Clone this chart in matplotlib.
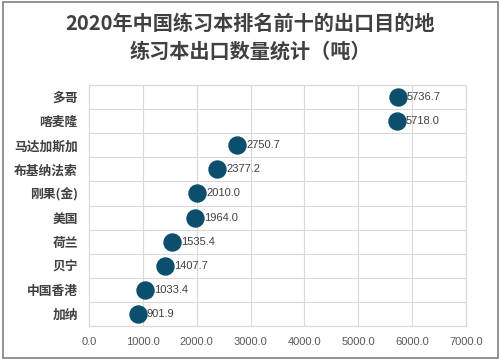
import matplotlib
matplotlib.use("Agg")
import matplotlib.pyplot as plt
from matplotlib.patches import Rectangle

plt.rcParams['font.family'] = ['Noto Sans CJK SC', 'DejaVu Sans']

categories = ["多哥", "喀麦隆", "马达加斯加", "布基纳法索", "刚果(金)", "美国", "荷兰", "贝宁", "中国香港", "加纳"]
values = [5736.7, 5718.0, 2750.7, 2377.2, 2010.0, 1964.0, 1535.4, 1407.7, 1033.4, 901.9]
xticks = [0, 1000, 2000, 3000, 4000, 5000, 6000, 7000]
title = "2020年中国练习本排名前十的出口目的地\n练习本出口数量统计（吨）"

fig = plt.figure(figsize=(5.01, 3.6), dpi=100)
fig.patches.append(Rectangle((0.006, 0.006), 0.988, 0.988, transform=fig.transFigure,
                             fill=False, edgecolor="#7f7f7f", linewidth=1.2))
ax = fig.add_axes([89/501, 1-326/360, (466-89)/501, (326-85)/360])

n = len(categories)
ypos = list(range(n))[::-1]
ax.scatter(values, ypos, s=150, color="#0b4f6c", zorder=3)
for v, y in zip(values, ypos):
    ax.annotate(f"{v:.1f}", (v, y), xytext=(6.5, 0), textcoords="offset points",
                va="center", ha="left", fontsize=8, color="#404040",
                family=['Liberation Sans', 'DejaVu Sans'], zorder=4)

ax.set_xlim(0, 7000)
ax.set_ylim(-0.5, n - 0.5)
ax.set_xticks(xticks)
ax.set_xticklabels([f"{t:.1f}" for t in xticks], fontsize=8, color="#595959",
                   family=['Liberation Sans', 'DejaVu Sans'])
ax.set_yticks(ypos)
ax.set_yticklabels(categories, fontsize=9.2, fontweight="bold", color="#404040")
ax.set_yticks([i - 0.5 for i in range(n + 1)], minor=True)
ax.grid(True, axis="x", color="#d9d9d9", linewidth=0.8)
ax.grid(True, axis="y", which="minor", color="#d9d9d9", linewidth=0.8)
ax.tick_params(axis="both", which="both", length=0)
ax.tick_params(axis="x", pad=8)
ax.tick_params(axis="y", pad=8)
for s in ax.spines.values():
    s.set_color("#d9d9d9")
    s.set_linewidth(0.8)
ax.set_axisbelow(True)

fig.text(0.5, 0.965, title, ha="center", va="top", fontsize=14.5, fontweight="bold",
         color="#404040", linespacing=1.4)

fig.savefig("out.png", dpi=100)
